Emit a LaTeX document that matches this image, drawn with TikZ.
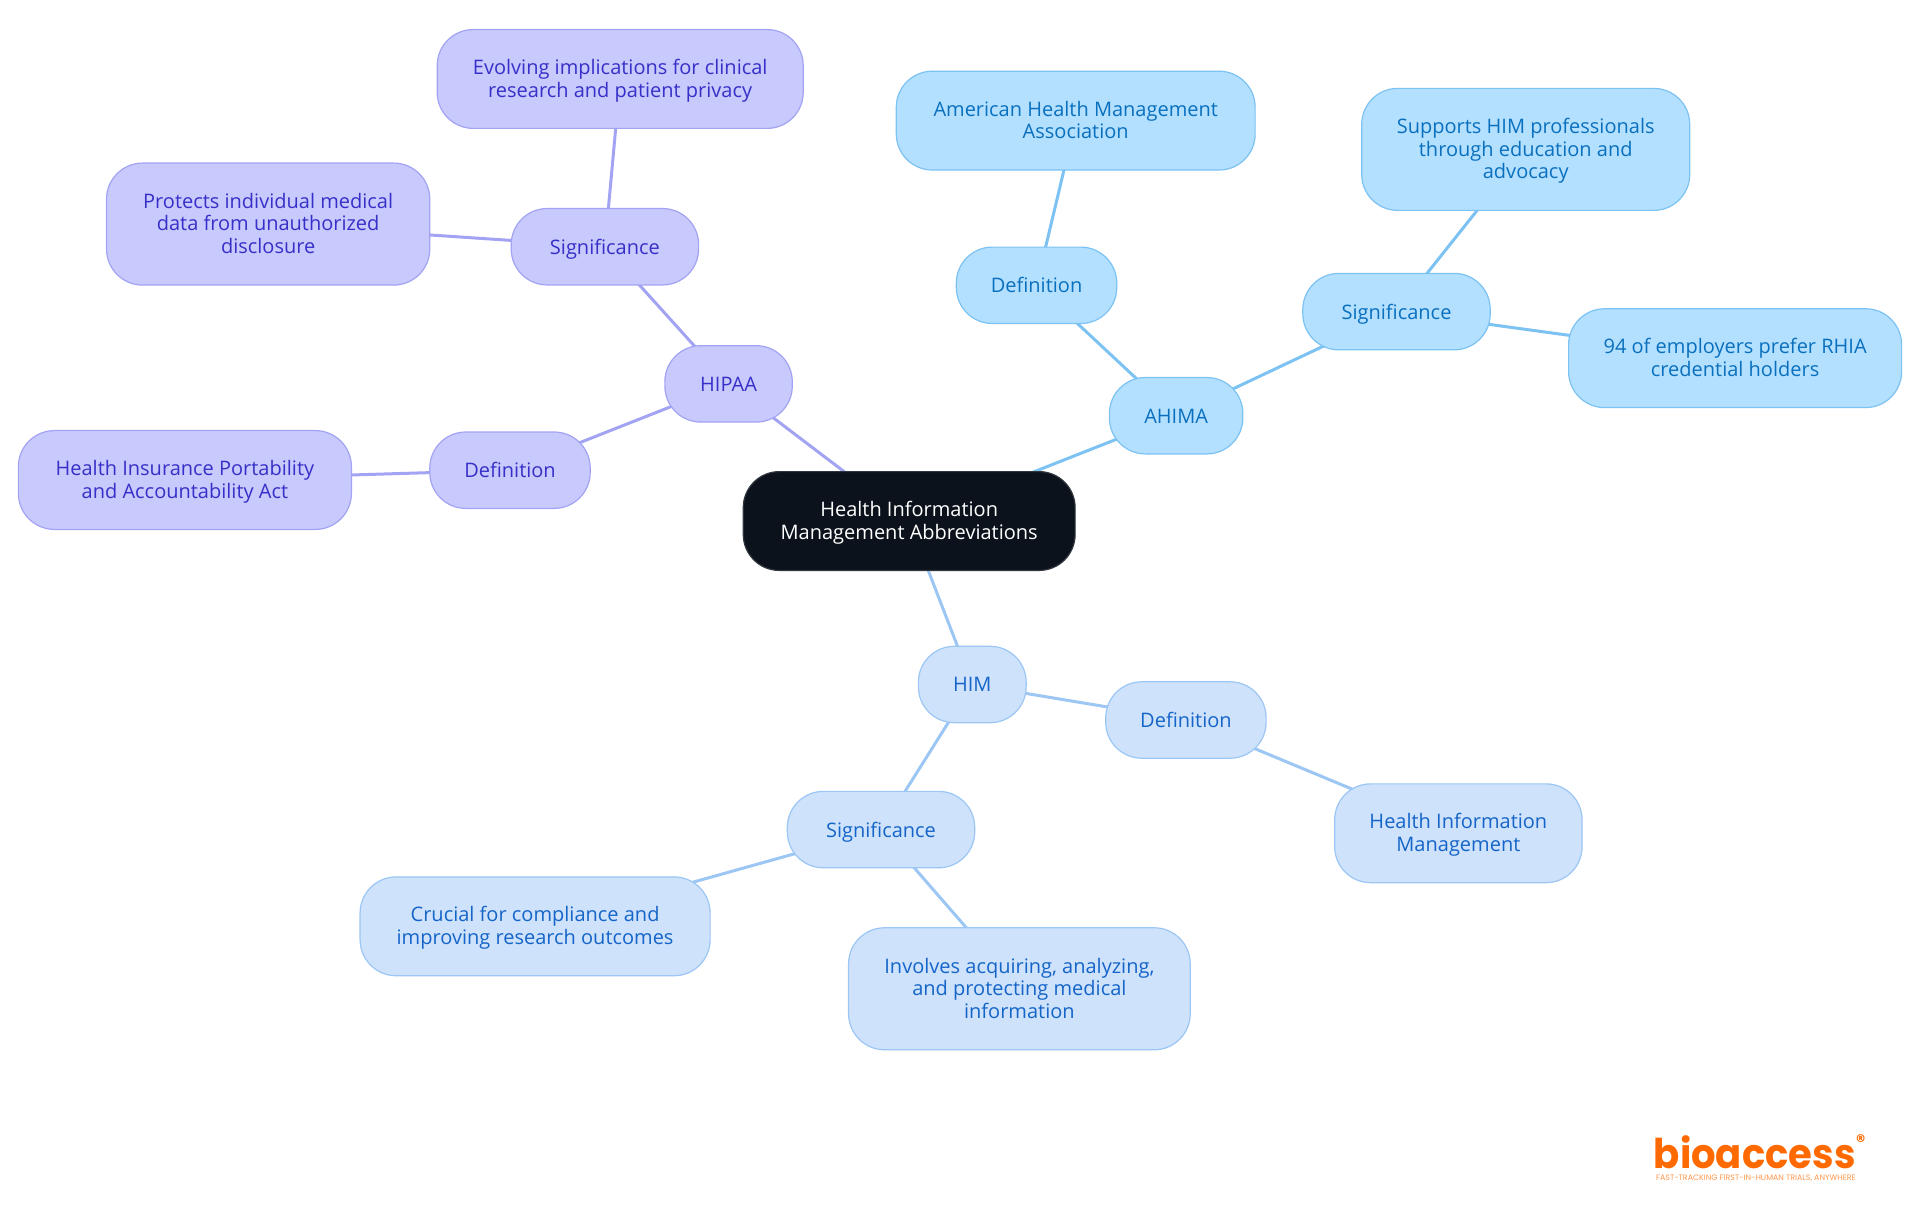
\documentclass[tikz,border=0pt]{standalone}
\usepackage{fontspec}
\usepackage{tikz}
\usetikzlibrary{backgrounds}
\setmainfont{Open Sans}
\newfontfamily\logofont[FakeStretch=.94]{Poppins}
\newfontfamily\logotagfont{Poppins}

\definecolor{rootfill}{HTML}{0B121B}
\definecolor{hipaafill}{HTML}{C8C9FD}
\definecolor{hipaaline}{HTML}{A3A3F3}
\definecolor{hipaatext}{HTML}{3730C8}
\definecolor{ahimafill}{HTML}{B3E0FF}
\definecolor{ahimaline}{HTML}{7CC2F2}
\definecolor{ahimatext}{HTML}{0A70BE}
\definecolor{himfill}{HTML}{CEE2FC}
\definecolor{himline}{HTML}{9CC6F3}
\definecolor{himtext}{HTML}{1565C8}
\definecolor{logocolor}{HTML}{FF6A00}

\newcommand{\mapstrut}{\rule[-3.5pt]{0pt}{14.5pt}}

\tikzset{
	mapbox/.style={rounded corners=18pt, line width=.6pt, align=center, inner sep=0pt, minimum height=38.2pt, font=\fontsize{10}{11.3}\selectfont, execute at begin node=\mapstrut, execute at end node=\mapstrut},
	twolines/.style={minimum height=49.4pt, execute at begin node=\rule{0pt}{21.7pt}},
	threelines/.style={minimum height=61pt, execute at begin node=\rule{0pt}{33pt}},
	rootbox/.style={mapbox, fill=rootfill, draw=rootfill!85!white, text=white},
	hipaabox/.style={mapbox, fill=hipaafill, draw=hipaaline, text=hipaatext},
	ahimabox/.style={mapbox, fill=ahimafill, draw=ahimaline, text=ahimatext},
	himbox/.style={mapbox, fill=himfill, draw=himline, text=himtext},
	hipaalink/.style={hipaaline, line width=1.5pt},
	ahimalink/.style={ahimaline, line width=1.5pt},
	himlink/.style={himline, line width=1.5pt}
}

\begin{document}
\begin{tikzpicture}[x=.6122pt, y=-.6122pt]
	\useasboundingbox (0,0) rectangle (1568,992);
	\node [rootbox, twolines, minimum width=165.9pt] (root) at (742.5,425.5) {Health Information\\Management Abbreviations};

	\node [hipaabox, minimum width=63.7pt] (hipaa) at (595,313.5) {HIPAA};
	\node [hipaabox, minimum width=93.7pt] (hipaasig) at (494,201.5) {Significance};
	\node [hipaabox, twolines, minimum width=183pt] (hipaaevolving) at (506.5,64.5) {Evolving implications for clinical\\research and patient privacy};
	\node [hipaabox, threelines, minimum width=161.6pt] (hipaaprotects) at (219,183) {Protects individual medical\\data from unauthorized\\disclosure};
	\node [hipaabox, minimum width=80.2pt] (hipaadef) at (416.5,384) {Definition};
	\node [hipaabox, twolines, minimum width=166.5pt] (hipaaname) at (151,392) {Health Insurance Portability\\and Accountability Act};

	\node [ahimabox, minimum width=66.7pt] (ahima) at (960.5,339.5) {AHIMA};
	\node [ahimabox, minimum width=80.2pt] (ahimadef) at (846.5,233) {Definition};
	\node [ahimabox, twolines, minimum width=179.4pt] (ahimaname) at (878.5,98.5) {American Health Management\\Association};
	\node [ahimabox, minimum width=93.7pt] (ahimasig) at (1140.5,254.5) {Significance};
	\node [ahimabox, threelines, minimum width=164pt] (ahimasupports) at (1246,122) {Supports HIM professionals\\through education and\\advocacy};
	\node [ahimabox, twolines, minimum width=166.5pt] (ahimaprefer) at (1417,292.5) {94 of employers prefer RHIA\\credential holders};

	\node [himbox, minimum width=53.9pt] (him) at (794,559) {HIM};
	\node [himbox, minimum width=80.2pt] (himdef) at (968.5,588) {Definition};
	\node [himbox, twolines, minimum width=123.7pt] (himname) at (1191,680.5) {Health Information\\Management};
	\node [himbox, minimum width=93.7pt] (himsig) at (719.5,677.5) {Significance};
	\node [himbox, twolines, minimum width=175pt] (himcrucial) at (437,756.5) {Crucial for compliance and\\improving research outcomes};
	\node [himbox, threelines, minimum width=170.8pt] (himinvolves) at (832.5,807.5) {Involves acquiring, analyzing,\\and protecting medical\\information};

	\begin{pgfonlayer}{background}
		\draw [hipaalink] (root.center)--(hipaa.center);
		\draw [hipaalink] (hipaa.center)--(hipaasig.center);
		\draw [hipaalink] (hipaasig.center)--(hipaaevolving.center);
		\draw [hipaalink] (hipaasig.center)--(hipaaprotects.center);
		\draw [hipaalink] (hipaa.center)--(hipaadef.center);
		\draw [hipaalink] (hipaadef.center)--(hipaaname.center);
		\draw [ahimalink] (root.center)--(ahima.center);
		\draw [ahimalink] (ahima.center)--(ahimadef.center);
		\draw [ahimalink] (ahimadef.center)--(ahimaname.center);
		\draw [ahimalink] (ahima.center)--(ahimasig.center);
		\draw [ahimalink] (ahimasig.center)--(ahimasupports.center);
		\draw [ahimalink] (ahimasig.center)--(ahimaprefer.center);
		\draw [himlink] (root.center)--(him.center);
		\draw [himlink] (him.center)--(himdef.center);
		\draw [himlink] (himdef.center)--(himname.center);
		\draw [himlink] (him.center)--(himsig.center);
		\draw [himlink] (himsig.center)--(himcrucial.center);
		\draw [himlink] (himsig.center)--(himinvolves.center);
	\end{pgfonlayer}

	\node [inner sep=0pt, anchor=base, text depth=0pt, text=logocolor, font=\logofont\bfseries\fontsize{20.5}{21}\selectfont] (logo) at (1433,954) {bioaccess};
	\node [inner sep=0pt, text=logocolor, font=\logotagfont\bfseries\fontsize{9}{9}\selectfont] (logomark) at (1519.5,932) {®};
	\node [inner sep=0pt, anchor=base, text height=2pt, text=logocolor!70!white, font=\logotagfont\fontsize{3.95}{4}\selectfont] (logotag) at (1434,964) {FAST-TRACKING FIRST-IN-HUMAN TRIALS, ANYWHERE};
\end{tikzpicture}
\end{document}
